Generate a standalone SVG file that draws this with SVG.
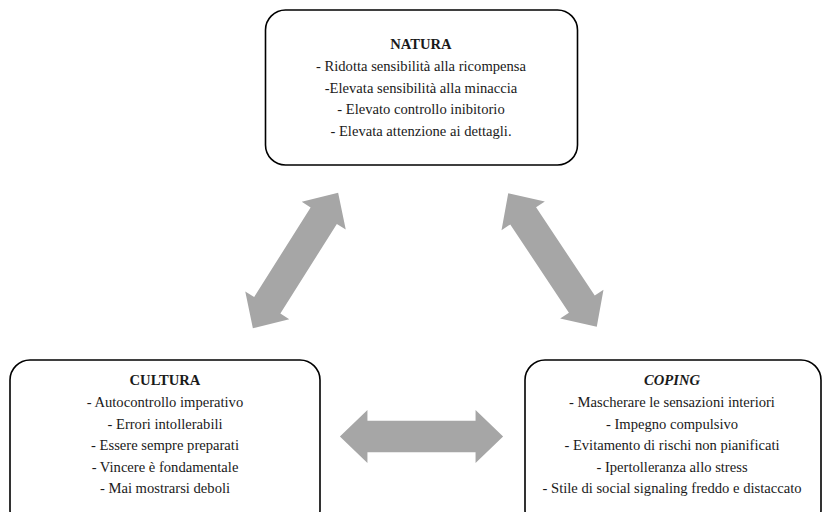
<svg xmlns="http://www.w3.org/2000/svg" width="825" height="512" viewBox="0 0 825 512">
<style>
.box{fill:#fff;stroke:#000;stroke-width:1.6}
text{font-family:"Liberation Serif","Times New Roman",serif;font-size:14.6px;fill:#1a1a1a;text-anchor:middle}
.t{font-weight:bold}
.ti{font-weight:bold;font-style:italic}
.arr{fill:#a6a6a6}
</style>
<defs>
<path id="dbl" class="arr" d="M-80,0 L-53,-26 L-53,-15.5 L53,-15.5 L53,-26 L80,0 L53,26 L53,15.5 L-53,15.5 L-53,26 Z"/>
</defs>
<rect width="825" height="512" fill="#fff"/>
<g id="connectors">
<use href="#dbl" transform="translate(295.5,260.5) rotate(-57.8)"/>
<use href="#dbl" transform="translate(552.5,260) rotate(56.4)"/>
<use href="#dbl" transform="translate(421.5,436.5) scale(1.02,1.02)"/>
</g>
<g id="natura">
<rect class="box" x="265.5" y="10" width="312" height="155" rx="20"/>
<text class="t" x="421" y="49">NATURA</text>
<text x="421" y="71">- Ridotta sensibilità alla ricompensa</text>
<text x="421" y="92.5">-Elevata sensibilità alla minaccia</text>
<text x="421" y="114">- Elevato controllo inibitorio</text>
<text x="421" y="135.5">- Elevata attenzione ai dettagli.</text>
</g>
<g id="cultura">
<rect class="box" x="10" y="360" width="310" height="170" rx="20"/>
<text class="t" x="165" y="385">CULTURA</text>
<text x="165" y="407">- Autocontrollo imperativo</text>
<text x="165" y="428.5">- Errori intollerabili</text>
<text x="165" y="450">- Essere sempre preparati</text>
<text x="165" y="471.5">- Vincere è fondamentale</text>
<text x="165" y="493">- Mai mostrarsi deboli</text>
</g>
<g id="coping">
<rect class="box" x="525" y="360" width="296" height="170" rx="20"/>
<text class="ti" x="672" y="385">COPING</text>
<text x="672" y="407">- Mascherare le sensazioni interiori</text>
<text x="672" y="428.5">- Impegno compulsivo</text>
<text x="672" y="450">- Evitamento di rischi non pianificati</text>
<text x="672" y="471.5">- Ipertolleranza allo stress</text>
<text x="672" y="493">- Stile di social signaling freddo e distaccato</text>
</g>
</svg>
